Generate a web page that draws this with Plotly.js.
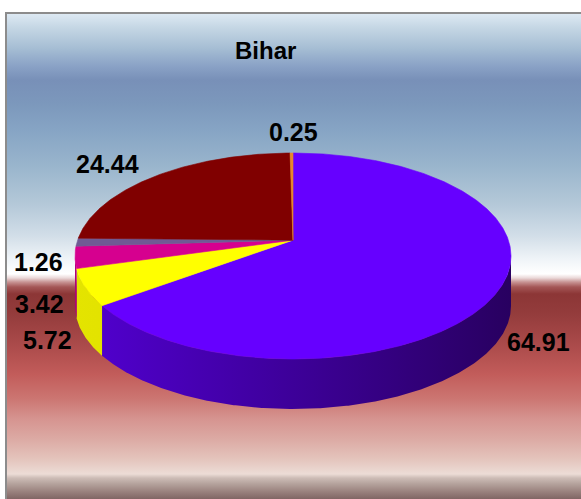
<!DOCTYPE html>
<html>
<head>
<meta charset="utf-8">
<script src="https://cdn.plot.ly/plotly-3.0.1.min.js"></script>
<style>
  html, body { margin: 0; padding: 0; background: #ffffff; width: 581px; height: 499px; overflow: hidden; }
  #frame {
    position: absolute; left: 5px; top: 12px; width: 620px; height: 520px;
    border-left: 2px solid #8c8c8c; border-top: 2px solid #8c8c8c;
    background: linear-gradient(to bottom,
      #dde9f3 0px, #c4d6e4 14px, #a6bed4 34px, #8aa2c6 52px, #7890b8 66px,
      #7c98bc 90px, #86a4c4 115px, #98b4cc 150px, #b4c8d8 190px, #d2dee8 222px,
      #eef3f7 244px, #fafcfd 255px, #ffffff 260px, #ead8d8 264px, #c89494 268px,
      #a45656 273px, #8c3636 280px, #943c3c 300px, #aa4a4a 330px, #c25c5a 360px,
      #cc7672 385px, #d69490 405px, #dcaaa4 425px, #e4c4bc 445px, #ecdcd6 460px,
      #cdbcb6 464px, #b4a29c 470px, #98807c 478px, #7c6260 486px);
  }
  #chart { position: absolute; left: 0; top: 0; width: 581px; height: 499px; }
</style>
</head>
<body>
<div id="frame"></div>
<div id="chart"></div>
<script>
// ---- data ----
var sliceNames = ['Slice 1', 'Slice 2', 'Slice 3', 'Slice 4', 'Slice 5', 'Slice 6'];
var values = [64.91, 5.72, 3.42, 1.26, 24.44, 0.25];
var valueLabels = ['64.91', '5.72', '3.42', '1.26', '24.44', '0.25'];
var chartTitle = 'Bihar';

// ---- styles / geometry ----
var topColors = ['#6600ff', '#ffff00', '#d6008f', '#705a94', '#800000', '#e8862a'];
var sideLeft  = ['rgb(82,0,210)', 'rgb(228,228,0)', 'rgb(176,0,120)', 'rgb(90,72,122)', 'rgb(100,0,0)', 'rgb(190,100,30)'];
var sideRight = ['rgb(40,0,96)',  'rgb(208,208,0)', 'rgb(150,0,100)', 'rgb(80,64,110)', 'rgb(90,0,0)',  'rgb(170,90,25)'];
var labelNudge = [[18, 4], [-16, 4], [-2, 1], [1, -22], [-5, -4], [2, 0]];
var cx = 293, cy = 256, rx = 218, ry = 103, depth = 50;
var persp = 0.154;                       // perspective shift of the pie centre (fraction of ry)
var aP = persp / (1 + Math.sqrt(1 - persp * persp));
var apexY = cy - ry * persp;

function rad(d) { return d * Math.PI / 180; }
// map true angle (deg, clockwise from top) to projected ellipse angle
function proj(t) {
  var u = Math.sin(rad(t)), v = Math.cos(rad(t));
  var nr = u, ni = v + aP;
  var dr = 1 + aP * v, di = -aP * u;
  var den = dr * dr + di * di;
  var wr = (nr * dr + ni * di) / den, wi = (ni * dr - nr * di) / den;
  var phi = Math.atan2(wr, wi) * 180 / Math.PI;
  if (phi < 0) phi += 360;
  return phi;
}
function px(p) { return cx + rx * Math.sin(rad(p)); }
function py(p) { return cy - ry * Math.cos(rad(p)); }

var total = values.reduce(function (a, b) { return a + b; }, 0);
var starts = [], ends = [];
var acc = 0;
values.forEach(function (v) { starts.push(acc / total * 360); acc += v; ends.push(acc / total * 360); });
var pStarts = starts.map(proj), pEnds = ends.map(proj);
pStarts[0] = 0; pEnds[pEnds.length - 1] = 360;

var traces = [];
var xmin = cx - rx, xmax = cx + rx;

// side faces (front half only)
values.forEach(function (v, i) {
  var s = Math.max(pStarts[i], 90), e = Math.min(pEnds[i], 270);
  if (s >= e) return;
  var n = Math.max(4, Math.ceil((e - s) / 0.5));
  var xs = [], ys = [];
  for (var k = 0; k <= n; k++) { var t = s + (e - s) * k / n; xs.push(px(t)); ys.push(py(t)); }
  for (var k2 = n; k2 >= 0; k2--) { var t2 = s + (e - s) * k2 / n; xs.push(px(t2)); ys.push(py(t2) + depth); }
  xs.push(xs[0]); ys.push(ys[0]);
  traces.push({ type: 'scatter', mode: 'lines', x: xs, y: ys, fill: 'toself',
    fillcolor: sideLeft[i],
    fillgradient: { type: 'horizontal', start: xmin, stop: xmax,
      colorscale: [[0, sideLeft[i]], [1, sideRight[i]]] },
    line: { width: 0 }, hoverinfo: 'skip', showlegend: false });
});

// top faces
values.forEach(function (v, i) {
  var xs = [cx], ys = [apexY];
  var s = pStarts[i], e = pEnds[i];
  var n = Math.max(2, Math.ceil((e - s) / 0.5));
  for (var k = 0; k <= n; k++) { var t = s + (e - s) * k / n; xs.push(px(t)); ys.push(py(t)); }
  xs.push(cx); ys.push(apexY);
  traces.push({ type: 'scatter', mode: 'lines', x: xs, y: ys, fill: 'toself', fillcolor: topColors[i],
    line: { color: topColors[i], width: 0.6 }, name: sliceNames[i],
    text: valueLabels[i], hoverinfo: 'name+text', showlegend: false });
});

// data labels
var annotations = values.map(function (v, i) {
  var m = (starts[i] + ends[i]) / 2;
  var c = Math.cos(rad(m));
  var bx = cx + 1.17 * rx * Math.sin(rad(m));
  var by = cy - 1.2 * ry * c + (c < 0 ? depth * 0.52 : 0);
  return { x: bx + labelNudge[i][0], y: by + labelNudge[i][1], xref: 'x', yref: 'y',
    text: '<b>' + valueLabels[i] + '</b>', showarrow: false, xanchor: 'center', yanchor: 'middle',
    font: { family: 'Liberation Sans, Arial, sans-serif', size: 25, color: '#000000' } };
});
annotations.push({ x: 265, y: 50, xref: 'x', yref: 'y', text: '<b>' + chartTitle + '</b>', showarrow: false,
  xanchor: 'center', yanchor: 'middle',
  font: { family: 'Liberation Sans, Arial, sans-serif', size: 24, color: '#000000' } });

var layout = {
  width: 581, height: 499,
  margin: { l: 0, r: 0, t: 0, b: 0, pad: 0 },
  paper_bgcolor: 'rgba(0,0,0,0)', plot_bgcolor: 'rgba(0,0,0,0)',
  xaxis: { range: [0, 581], visible: false, fixedrange: true },
  yaxis: { range: [499, 0], visible: false, fixedrange: true },
  showlegend: false,
  annotations: annotations
};

Plotly.newPlot('chart', traces, layout, { displayModeBar: false, staticPlot: true });
</script>
</body>
</html>
